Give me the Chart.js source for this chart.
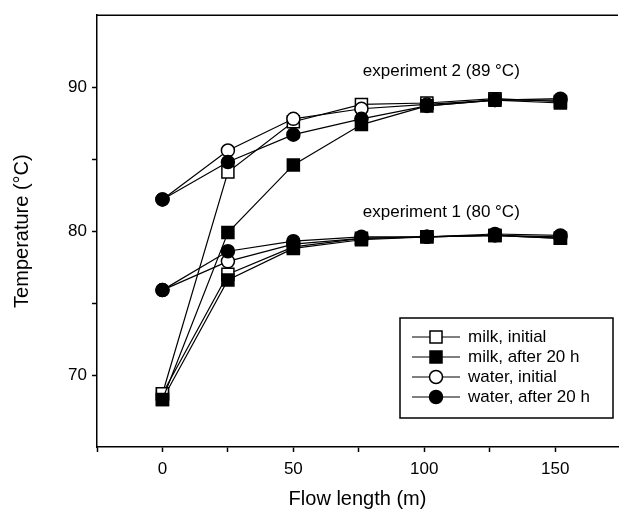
<!DOCTYPE html>
<html>
<head>
<meta charset="utf-8">
<script src="https://cdn.jsdelivr.net/npm/chart.js@4"></script>
<style>
  body { margin: 0; background: #fff; }
  canvas { display: block; }
</style>
</head>
<body>
<canvas id="chart" width="628" height="513"></canvas>
<script>
// flow length positions (m)
const flowLength = [0, 25, 50, 76, 101, 127, 152]

// experiment 2 (89 °C)
const milkInitial2 = [68.7, 84.1, 87.6, 88.8, 88.9, 89.2, 89.0]
const milkAfter2 = [68.3, 79.9, 84.6, 87.4, 88.7, 89.1, 88.9]
const waterInitial2 = [82.2, 85.6, 87.8, 88.5, 88.8, 89.1, 89.1]
const waterAfter2 = [82.2, 84.8, 86.7, 87.8, 88.7, 89.1, 89.2]

// experiment 1 (80 °C)
const milkInitial1 = [68.7, 77.0, 78.9, 79.5, 79.6, 79.7, 79.5]
const milkAfter1 = [68.3, 76.6, 78.8, 79.4, 79.6, 79.7, 79.5]
const waterInitial1 = [75.9, 77.9, 79.1, 79.5, 79.6, 79.7, 79.6]
const waterAfter1 = [75.9, 78.6, 79.3, 79.6, 79.6, 79.8, 79.7]

const xTicks = [-25, 0, 25, 50, 75, 100, 125, 150]
const yTicks = [70, 75, 80, 85, 90]
const legendLabels = ['milk, initial', 'milk, after 20 h', 'water, initial', 'water, after 20 h']

const FONT = '"Liberation Sans", Arial, sans-serif'

// marker style for each series kind
const styles = {
    milkInitial: { pointStyle: 'rect', pointRadius: 8.5, fill: '#fff' },
    milkAfter: { pointStyle: 'rect', pointRadius: 8.5, fill: '#000' },
    waterInitial: { pointStyle: 'circle', pointRadius: 6.5, fill: '#fff' },
    waterAfter: { pointStyle: 'circle', pointRadius: 6.5, fill: '#000' }
}

function series(values, kind, order) {
    const s = styles[kind]
    return {
        label: kind,
        data: flowLength.map((x, i) => ({ x: x, y: values[i] })),
        borderColor: '#000',
        borderWidth: 1.2,
        pointStyle: s.pointStyle,
        pointRadius: s.pointRadius,
        pointBackgroundColor: s.fill,
        pointBorderColor: '#000',
        pointBorderWidth: 1.5,
        showLine: true,
        order: order
    }
}

const datasets = [
    series(waterAfter2, 'waterAfter', 0),
    series(milkAfter2, 'milkAfter', 1),
    series(waterInitial2, 'waterInitial', 2),
    series(milkInitial2, 'milkInitial', 3),
    series(waterAfter1, 'waterAfter', 4),
    series(milkAfter1, 'milkAfter', 5),
    series(waterInitial1, 'waterInitial', 6),
    series(milkInitial1, 'milkInitial', 7)
]

function marker(ctx, kind, x, y) {
    const s = styles[kind]
    ctx.fillStyle = s.fill
    ctx.strokeStyle = '#000'
    ctx.lineWidth = 1.5
    ctx.beginPath()
    if (s.pointStyle === 'rect') {
        const h = s.pointRadius * Math.SQRT1_2
        ctx.rect(x - h, y - h, h * 2, h * 2)
    } else {
        ctx.arc(x, y, s.pointRadius, 0, Math.PI * 2)
    }
    ctx.fill()
    ctx.stroke()
}

const extras = {
    id: 'extras',
    afterDraw(chart) {
        const ctx = chart.ctx
        const area = chart.chartArea
        const xs = chart.scales.x
        const ys = chart.scales.y
        ctx.save()

        // top frame line
        ctx.strokeStyle = '#000'
        ctx.lineWidth = 1.5
        ctx.beginPath()
        ctx.moveTo(area.left, area.top)
        ctx.lineTo(area.right, area.top)
        ctx.stroke()

        // experiment labels
        ctx.fillStyle = '#000'
        ctx.font = '17px ' + FONT
        ctx.textAlign = 'center'
        ctx.textBaseline = 'middle'
        ctx.fillText('experiment 2 (89 °C)', xs.getPixelForValue(106.5), ys.getPixelForValue(91.1))
        ctx.fillText('experiment 1 (80 °C)', xs.getPixelForValue(106.5), ys.getPixelForValue(81.3))

        // legend box
        const bx = 400, by = 318, bw = 213, bh = 100
        ctx.fillStyle = '#fff'
        ctx.fillRect(bx, by, bw, bh)
        ctx.lineWidth = 1.5
        ctx.strokeRect(bx, by, bw, bh)
        const kinds = ['milkInitial', 'milkAfter', 'waterInitial', 'waterAfter']
        ctx.font = '17px ' + FONT
        ctx.textAlign = 'left'
        kinds.forEach((k, i) => {
            const y = by + 19 + i * 20
            ctx.lineWidth = 1.2
            ctx.strokeStyle = '#000'
            ctx.beginPath()
            ctx.moveTo(bx + 12, y)
            ctx.lineTo(bx + 60, y)
            ctx.stroke()
            marker(ctx, k, bx + 36, y)
            ctx.fillStyle = '#000'
            ctx.fillText(legendLabels[i], bx + 68, y)
        })
        ctx.restore()
    }
}

new Chart(document.getElementById('chart'), {
    type: 'scatter',
    data: { datasets: datasets },
    options: {
        responsive: false,
        animation: false,
        layout: { padding: { top: 11, right: 1, left: 0, bottom: 0 } },
        plugins: {
            legend: { display: false },
            tooltip: { enabled: false }
        },
        scales: {
            x: {
                type: 'linear',
                min: -25,
                max: 174,
                afterBuildTicks: s => { s.ticks = xTicks.map(v => ({ value: v })) },
                afterFit: s => { s.height = 66 },
                ticks: {
                    color: '#000',
                    font: { family: FONT, size: 17 },
                    padding: 7,
                    maxRotation: 0,
                    autoSkip: false,
                    callback: v => (v % 50 === 0 ? v : '')
                },
                grid: { drawOnChartArea: false, tickLength: 5, tickColor: '#000', tickWidth: 1.5 },
                border: { color: '#000', width: 1.5 },
                title: {
                    display: true,
                    text: 'Flow length (m)',
                    color: '#000',
                    font: { family: FONT, size: 20 },
                    padding: { top: 0, bottom: 2 }
                }
            },
            y: {
                type: 'linear',
                min: 65,
                max: 95,
                afterBuildTicks: s => { s.ticks = yTicks.map(v => ({ value: v })) },
                afterFit: s => { s.width = 97 },
                ticks: {
                    color: '#000',
                    font: { family: FONT, size: 17 },
                    padding: 5,
                    autoSkip: false,
                    callback: v => (v % 10 === 0 ? v : '')
                },
                grid: { drawOnChartArea: false, tickLength: 5, tickColor: '#000', tickWidth: 1.5 },
                border: { color: '#000', width: 1.5 },
                title: {
                    display: true,
                    text: 'Temperature (°C)',
                    color: '#000',
                    font: { family: FONT, size: 20 },
                    padding: { top: 10, bottom: 0 }
                }
            }
        }
    },
    plugins: [extras]
})
</script>
</body>
</html>
